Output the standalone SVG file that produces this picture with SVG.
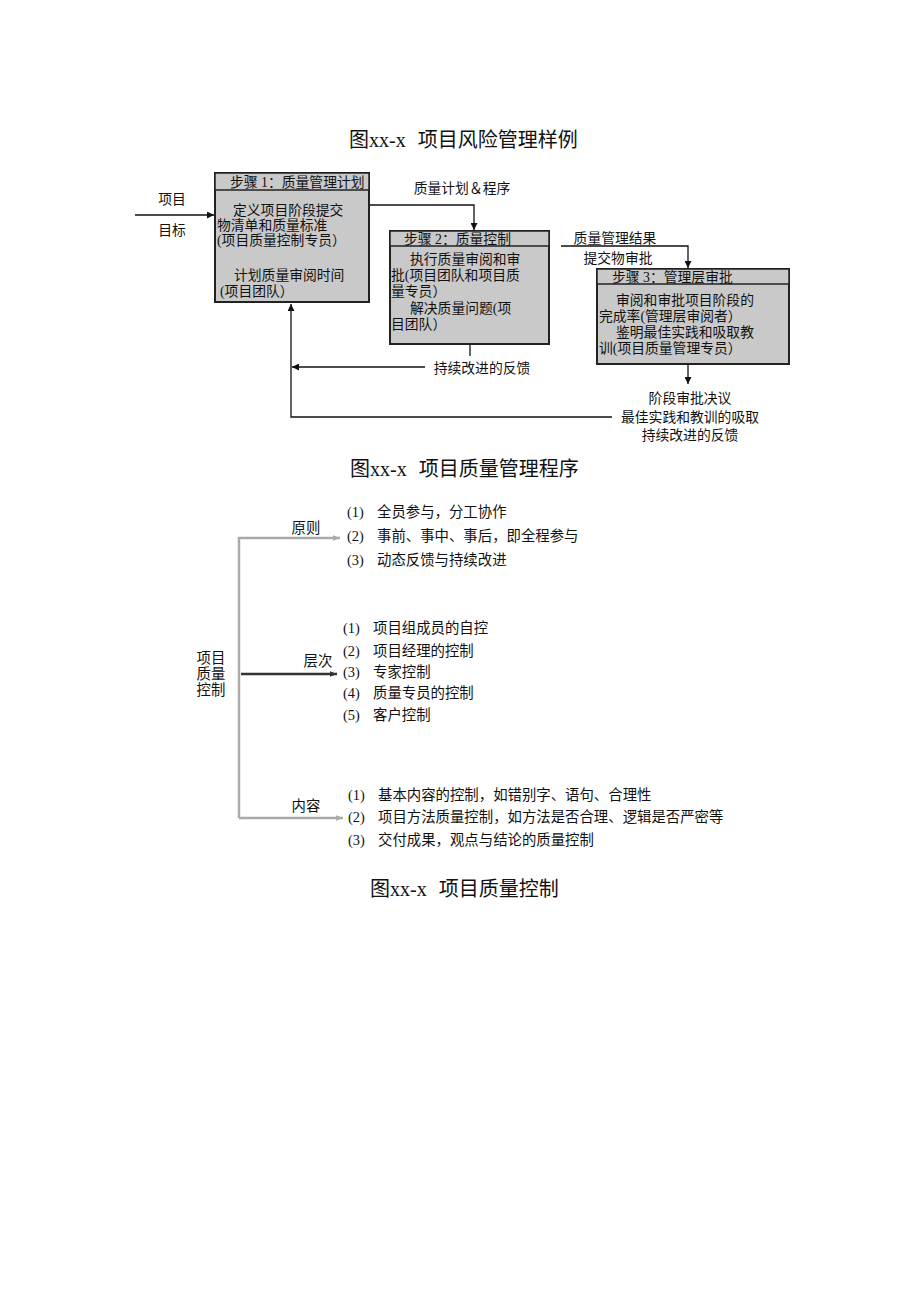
<svg xmlns="http://www.w3.org/2000/svg" width="920" height="1302" viewBox="0 0 920 1302">
<style>
.t{font-family:"Liberation Serif","Noto Sans CJK SC",serif;fill:#111}
.title{font-size:20px}
.bx{font-size:13.8px}
.lb{font-size:13.8px}
.it{font-size:14.4px}
.box{fill:#c9c9c9;stroke:#222;stroke-width:2}
.hd{fill:#c9c9c9;stroke:#222;stroke-width:1.5}
.ln{fill:none;stroke:#111;stroke-width:1.3}
.gl{fill:none;stroke:#aaa;stroke-width:2.5}
.dl{fill:none;stroke:#333;stroke-width:2.5}
</style>
<defs>
<marker id="ah" viewBox="0 0 10 10" refX="10" refY="5" markerWidth="7" markerHeight="7" markerUnits="userSpaceOnUse" orient="auto"><path d="M0,0L10,5L0,10z" fill="#111"/></marker>
<marker id="ag" viewBox="0 0 10 10" refX="10" refY="5" markerWidth="8" markerHeight="7" markerUnits="userSpaceOnUse" orient="auto"><path d="M0,1L10,5L0,9z" fill="#aaa"/></marker>
<marker id="ad" viewBox="0 0 10 10" refX="10" refY="5" markerWidth="8" markerHeight="7" markerUnits="userSpaceOnUse" orient="auto"><path d="M0,1L10,5L0,9z" fill="#333"/></marker>
</defs>
<rect width="920" height="1302" fill="#fff"/>
<text class="t title" x="349" y="147">图xx-x<tspan dx="12">项目风险管理样例</tspan></text>

<g id="connectors">
<path class="ln" d="M135,215H214" marker-end="url(#ah)"/>
<path class="ln" d="M369,205H474V230" marker-end="url(#ah)"/>
<path class="ln" d="M561,246H688V268" marker-end="url(#ah)"/>
<path class="ln" d="M688,364V384" marker-end="url(#ah)"/>
<path class="ln" d="M470,344V356"/>
<path class="ln" d="M425,367H292" marker-end="url(#ah)"/>
<path class="ln" d="M612,417H291V304" marker-end="url(#ah)"/>
<path class="gl" d="M239,818V538H340" marker-end="url(#ag)"/>
<path class="gl" d="M239,818H343" marker-end="url(#ag)"/>
<path class="dl" d="M241,674H337" marker-end="url(#ad)"/>
</g>

<g id="labels1">
<text class="t lb" x="172" y="204" text-anchor="middle">项目</text>
<text class="t lb" x="172" y="235" text-anchor="middle">目标</text>
<text class="t lb" x="462" y="193" text-anchor="middle">质量计划＆程序</text>
<text class="t lb" x="615" y="243" text-anchor="middle">质量管理结果</text>
<text class="t lb" x="618" y="263" text-anchor="middle">提交物审批</text>
<text class="t lb" x="482" y="373" text-anchor="middle">持续改进的反馈</text>
<text class="t lb" x="690" y="403" text-anchor="middle">阶段审批决议</text>
<text class="t lb" x="690" y="422" text-anchor="middle">最佳实践和教训的吸取</text>
<text class="t lb" x="690" y="440" text-anchor="middle">持续改进的反馈</text>
</g>

<g id="step1">
<rect class="box" x="215" y="173" width="154" height="129"/>
<rect class="hd" x="215" y="173" width="154" height="17"/>
<text class="t bx" x="230" y="187">步骤 1：质量管理计划</text>
<text class="t bx" x="233" y="215">定义项目阶段提交</text>
<text class="t bx" x="217" y="230">物清单和质量标准</text>
<text class="t bx" x="217" y="245">(项目质量控制专员）</text>
<text class="t bx" x="234" y="280">计划质量审阅时间</text>
<text class="t bx" x="220" y="296">(项目团队）</text>
</g>

<g id="step2">
<rect class="box" x="390" y="231" width="159" height="113"/>
<rect class="hd" x="390" y="231" width="159" height="15"/>
<text class="t bx" x="404" y="244">步骤 2：质量控制</text>
<text class="t bx" x="410" y="264">执行质量审阅和审</text>
<text class="t bx" x="391" y="280">批(项目团队和项目质</text>
<text class="t bx" x="391" y="296">量专员）</text>
<text class="t bx" x="410" y="313">解决质量问题(项</text>
<text class="t bx" x="391" y="329">目团队）</text>
</g>

<g id="step3">
<rect class="box" x="597" y="269" width="192" height="95"/>
<rect class="hd" x="597" y="269" width="192" height="15"/>
<text class="t bx" x="612" y="282">步骤 3：管理层审批</text>
<text class="t bx" x="616" y="305">审阅和审批项目阶段的</text>
<text class="t bx" x="599" y="321">完成率(管理层审阅者）</text>
<text class="t bx" x="616" y="337">鉴明最佳实践和吸取教</text>
<text class="t bx" x="599" y="353">训(项目质量管理专员）</text>
</g>

<text class="t title" x="350" y="476">图xx-x<tspan dx="12">项目质量管理程序</tspan></text>

<g id="root">
<text class="t it" x="211" y="663" text-anchor="middle">项目</text>
<text class="t it" x="211" y="679" text-anchor="middle">质量</text>
<text class="t it" x="211" y="695" text-anchor="middle">控制</text>
</g>

<g id="principle">
<text class="t it" x="306" y="533" text-anchor="middle">原则</text>
<text class="t it" x="347" y="517">(1)</text><text class="t it" x="377" y="517">全员参与，分工协作</text>
<text class="t it" x="347" y="541">(2)</text><text class="t it" x="377" y="541">事前、事中、事后，即全程参与</text>
<text class="t it" x="347" y="565">(3)</text><text class="t it" x="377" y="565">动态反馈与持续改进</text>
</g>

<g id="level">
<text class="t it" x="318" y="666" text-anchor="middle">层次</text>
<text class="t it" x="343" y="633">(1)</text><text class="t it" x="373" y="633">项目组成员的自控</text>
<text class="t it" x="343" y="656">(2)</text><text class="t it" x="373" y="656">项目经理的控制</text>
<text class="t it" x="343" y="677">(3)</text><text class="t it" x="373" y="677">专家控制</text>
<text class="t it" x="343" y="698">(4)</text><text class="t it" x="373" y="698">质量专员的控制</text>
<text class="t it" x="343" y="720">(5)</text><text class="t it" x="373" y="720">客户控制</text>
</g>

<g id="content">
<text class="t it" x="306" y="811" text-anchor="middle">内容</text>
<text class="t it" x="348" y="800">(1)</text><text class="t it" x="378" y="800">基本内容的控制，如错别字、语句、合理性</text>
<text class="t it" x="348" y="822">(2)</text><text class="t it" x="378" y="822">项目方法质量控制，如方法是否合理、逻辑是否严密等</text>
<text class="t it" x="348" y="845">(3)</text><text class="t it" x="378" y="845">交付成果，观点与结论的质量控制</text>
</g>

<text class="t title" x="370" y="896">图xx-x<tspan dx="12">项目质量控制</tspan></text>
</svg>
